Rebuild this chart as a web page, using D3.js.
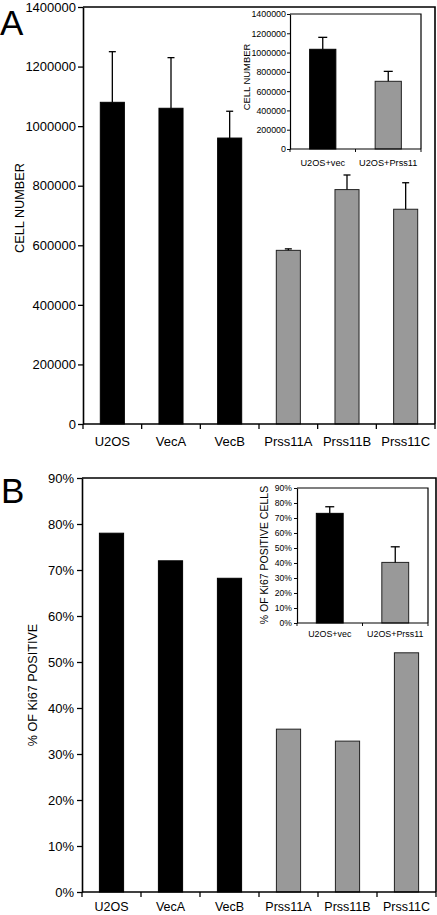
<!DOCTYPE html>
<html>
<head>
<meta charset="utf-8">
<script src="https://cdn.jsdelivr.net/npm/d3@7"></script>
<style>
  html, body { margin: 0; padding: 0; background: #fff; }
  svg { display: block; }
  text { font-family: "Liberation Sans", Arial, Helvetica, sans-serif; fill: #000; }
</style>
</head>
<body>
<svg id="chart" width="437" height="915"></svg>
<script>
// ---------- data ----------
const categories = ["U2OS", "VecA", "VecB", "Prss11A", "Prss11B", "Prss11C"];
const groups = ["vec", "vec", "vec", "prss", "prss", "prss"];
const cellNumber = [1080000, 1060000, 960000, 583000, 787000, 721000];
const cellNumberErr = [170000, 170000, 90000, 5000, 49000, 89000];
const cellTicks = [0, 200000, 400000, 600000, 800000, 1000000, 1200000, 1400000];

const insetCategories = ["U2OS+vec", "U2OS+Prss11"];
const insetGroups = ["vec", "prss"];
const insetCellNumber = [1034000, 702000];
const insetCellErr = [124000, 103000];

const ki67 = [0.78, 0.72, 0.682, 0.354, 0.328, 0.52];
const ki67Ticks = [0, 0.1, 0.2, 0.3, 0.4, 0.5, 0.6, 0.7, 0.8, 0.9];
const insetKi67 = [0.731, 0.404];
const insetKi67Err = [0.044, 0.104];

const colors = { vec: "#000000", prss: "#999999" };

const svg = d3.select("#chart");

function drawChart(cfg) {
  const g = svg.append("g");
  const x = d3.scaleBand().domain(cfg.cats).range([cfg.left, cfg.right]).padding(0);
  const y = d3.scaleLinear().domain([0, cfg.max]).range([cfg.bottom, cfg.top]);
  const bw = x.bandwidth() * cfg.barFrac;

  // frame (top + right)
  g.append("path")
    .attr("d", `M${cfg.left},${cfg.top}H${cfg.right}V${cfg.bottom}`)
    .attr("fill", "none").attr("stroke", "#000").attr("stroke-width", cfg.lw);

  // bars
  const data = cfg.cats.map((c, i) => ({ c, v: cfg.vals[i], e: cfg.errs ? cfg.errs[i] : 0, grp: cfg.groups[i] }));
  g.selectAll("rect.bar").data(data).enter().append("rect")
    .attr("class", "bar")
    .attr("x", d => x(d.c) + (x.bandwidth() - bw) / 2)
    .attr("width", bw)
    .attr("y", d => y(d.v))
    .attr("height", d => y(0) - y(d.v))
    .attr("fill", d => colors[d.grp])
    .attr("stroke", d => d.grp === "prss" ? "#222" : "#000")
    .attr("stroke-width", 1);

  // error bars (upper only)
  if (cfg.errs) {
    const eg = g.selectAll("g.err").data(data).enter().append("g").attr("class", "err");
    eg.append("line")
      .attr("x1", d => x(d.c) + x.bandwidth() / 2)
      .attr("x2", d => x(d.c) + x.bandwidth() / 2)
      .attr("y1", d => y(d.v))
      .attr("y2", d => y(d.v + d.e))
      .attr("stroke", "#000").attr("stroke-width", 1.3);
    eg.append("line")
      .attr("x1", d => x(d.c) + x.bandwidth() / 2 - cfg.cap / 2)
      .attr("x2", d => x(d.c) + x.bandwidth() / 2 + cfg.cap / 2)
      .attr("y1", d => y(d.v + d.e))
      .attr("y2", d => y(d.v + d.e))
      .attr("stroke", "#000").attr("stroke-width", 1.3);
  }

  // y axis
  const ya = g.append("g").attr("transform", `translate(${cfg.left},0)`)
    .call(d3.axisLeft(y).tickValues(cfg.ticks).tickFormat(cfg.fmt)
      .tickSize(cfg.tickSize).tickSizeOuter(0).tickPadding(cfg.tickPad));
  ya.select(".domain").attr("stroke-width", cfg.lw);
  ya.selectAll(".tick line").attr("stroke-width", cfg.lw * 0.8);
  ya.selectAll("text").style("font-size", cfg.tickFont + "px")
    .style("font-family", '"Liberation Sans", Arial, sans-serif');

  // x axis: ticks at band boundaries
  const xa = g.append("g");
  xa.append("line").attr("x1", cfg.left).attr("x2", cfg.right)
    .attr("y1", cfg.bottom).attr("y2", cfg.bottom)
    .attr("stroke", "#000").attr("stroke-width", cfg.lw);
  const bounds = cfg.cats.map(c => x(c)).concat([cfg.right]);
  xa.selectAll("line.tk").data(bounds).enter().append("line")
    .attr("class", "tk")
    .attr("x1", d => d).attr("x2", d => d)
    .attr("y1", cfg.bottom).attr("y2", cfg.bottom + cfg.tickSize)
    .attr("stroke", "#000").attr("stroke-width", cfg.lw * 0.8);
  xa.selectAll("text").data(cfg.cats).enter().append("text")
    .attr("x", d => x(d) + x.bandwidth() / 2)
    .attr("y", cfg.bottom + cfg.xLabelOff)
    .attr("text-anchor", "middle")
    .style("font-size", cfg.xFont + "px")
    .text(d => d);

  // y label
  g.append("text")
    .attr("transform", `translate(${cfg.yLabelX},${cfg.yLabelY}) rotate(-90)`)
    .attr("text-anchor", "middle")
    .style("font-size", cfg.yLabelFont + "px")
    .text(cfg.yLabel);
}

// Panel A
drawChart({
  cats: categories, groups: groups, vals: cellNumber, errs: cellNumberErr,
  max: 1400000, ticks: cellTicks, fmt: d3.format("d"),
  left: 83, right: 435, top: 7, bottom: 424,
  barFrac: 0.41, cap: 7, lw: 1.6, tickSize: 5, tickPad: 2, tickFont: 13,
  xFont: 13, xLabelOff: 22, yLabel: "CELL NUMBER", yLabelX: 24, yLabelY: 208, yLabelFont: 12.7
});
// Inset A
drawChart({
  cats: insetCategories, groups: insetGroups, vals: insetCellNumber, errs: insetCellErr,
  max: 1400000, ticks: cellTicks, fmt: d3.format("d"),
  left: 290, right: 421, top: 14, bottom: 149,
  barFrac: 0.4, cap: 9, lw: 1.2, tickSize: 3, tickPad: 1, tickFont: 8.9,
  xFont: 9.2, xLabelOff: 17, yLabel: "CELL NUMBER", yLabelX: 250, yLabelY: 77, yLabelFont: 9.4
});
// Panel B
drawChart({
  cats: categories, groups: groups, vals: ki67, errs: null,
  max: 0.9, ticks: ki67Ticks, fmt: d3.format(".0%"),
  left: 82, right: 436, top: 478, bottom: 892,
  barFrac: 0.41, cap: 7, lw: 1.6, tickSize: 5, tickPad: 3, tickFont: 13,
  xFont: 12.5, xLabelOff: 18.5, yLabel: "% OF Ki67 POSITIVE", yLabelX: 37, yLabelY: 685, yLabelFont: 12.6
});
// Inset B
drawChart({
  cats: insetCategories, groups: insetGroups, vals: insetKi67, errs: insetKi67Err,
  max: 0.9, ticks: ki67Ticks, fmt: d3.format(".0%"),
  left: 297, right: 428, top: 488, bottom: 623,
  barFrac: 0.41, cap: 9, lw: 1.2, tickSize: 3, tickPad: 2, tickFont: 8.6,
  xFont: 8.9, xLabelOff: 14, yLabel: "% OF Ki67 POSITIVE CELLS", yLabelX: 268, yLabelY: 555, yLabelFont: 10.5
});

// Panel letters
svg.append("text").attr("x", 0).attr("y", 35).style("font-size", "35px").text("A");
svg.append("text").attr("x", 1).attr("y", 503).style("font-size", "35px").text("B");
</script>
</body>
</html>
